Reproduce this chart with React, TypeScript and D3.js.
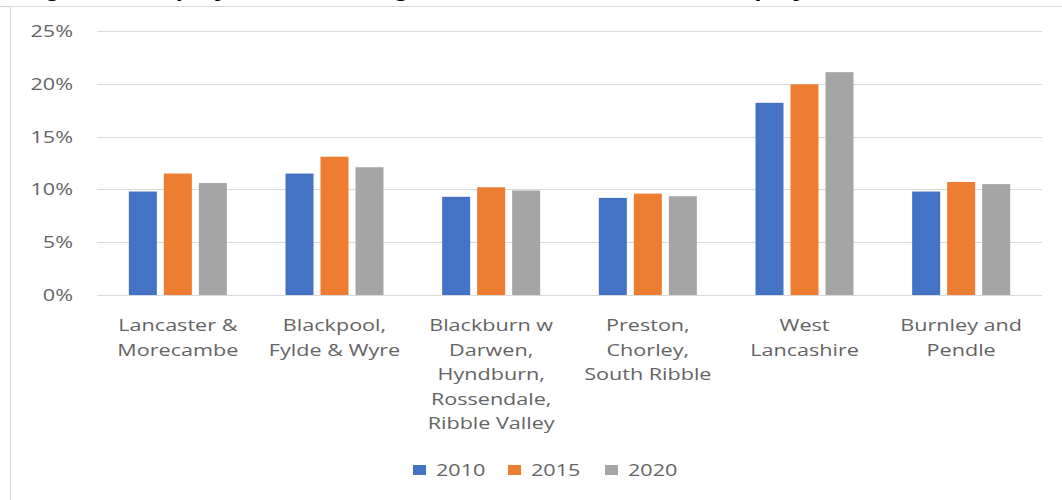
import React from "react";
import * as d3 from "d3";

const categories: string[][] = [
  ["Lancaster &", "Morecambe"],
  ["Blackpool,", "Fylde & Wyre"],
  ["Blackburn w", "Darwen,", "Hyndburn,", "Rossendale,", "Ribble Valley"],
  ["Preston,", "Chorley,", "South Ribble"],
  ["West", "Lancashire"],
  ["Burnley and", "Pendle"],
];
const seriesNames = ["2010", "2015", "2020"];
const values2010 = [0.098, 0.115, 0.093, 0.092, 0.182, 0.098];
const values2015 = [0.115, 0.131, 0.102, 0.096, 0.1995, 0.107];
const values2020 = [0.106, 0.121, 0.099, 0.0935, 0.211, 0.105];
const colors = ["#4472C4", "#ED7D31", "#A5A5A5"];
const yTicks = [0, 0.05, 0.1, 0.15, 0.2, 0.25];
const titleText = "Figure 1: Employment in the highest skilled roles as % of employment";

const W = 1062;
const H = 500;
const SX = 1.27;
const FONT = "'Open Sans', sans-serif";
const TEXT = "#646464";

export default function App() {
  const seriesValues = [values2010, values2015, values2020];
  const ids = categories.map((c) => c.join(" "));
  const x0 = d3.scaleBand<string>().domain(ids).range([99.5, 1039.5]).paddingInner(0).paddingOuter(0);
  const groupW = 98;
  const x1 = d3.scaleBand<string>().domain(seriesNames).range([0, groupW]).paddingInner(0.2).paddingOuter(0);
  const y = d3.scaleLinear().domain([0, 0.25]).range([295, 31]);
  const fmt = d3.format(".0%");

  const legendX = [413, 508, 605];

  return (
    <svg
      width={W}
      height={H}
      style={{ position: "absolute", left: 0, top: 0, background: "#fff" }}
      fontFamily={FONT}
    >
      <rect x={0} y={0} width={W} height={H} fill="#fff" />
      <text
        transform={`translate(22,-3) scale(${SX},1)`}
        fontSize={20}
        fontWeight="bold"
        fill="#000"
        fontFamily="'Liberation Sans', Arial, sans-serif"
      >
        {titleText}
      </text>
      <line x1={0} x2={W} y1={6.5} y2={6.5} stroke="#D0D0D0" />
      <rect x={10.5} y={6.5} width={1060} height={520} fill="none" stroke="#D9D9D9" />

      {yTicks.map((t) => (
        <g key={t}>
          <line x1={97} x2={1042} y1={Math.round(y(t)) + 0.5} y2={Math.round(y(t)) + 0.5} stroke="#D9D9D9" strokeWidth={1} />
          <text
            transform={`translate(73,${y(t) + 6}) scale(${SX},1)`}
            textAnchor="end"
            fontSize={17}
            fill={TEXT}
          >
            {fmt(t)}
          </text>
        </g>
      ))}

      {ids.map((id, i) => {
        const gx = (x0(id) as number) + x0.bandwidth() / 2 - groupW / 2;
        return (
          <g key={id}>
            {seriesNames.map((s, j) => {
              const v = seriesValues[j][i];
              return (
                <rect
                  key={s}
                  x={gx + (x1(s) as number)}
                  y={y(v)}
                  width={x1.bandwidth()}
                  height={y(0) - y(v)}
                  fill={colors[j]}
                />
              );
            })}
            {categories[i].map((line, k) => (
              <text
                key={k}
                transform={`translate(${(x0(id) as number) + x0.bandwidth() / 2},${331 + k * 24.5}) scale(${SX},1)`}
                textAnchor="middle"
                fontSize={17}
                fill={TEXT}
              >
                {line}
              </text>
            ))}
          </g>
        );
      })}

      {seriesNames.map((s, j) => (
        <g key={s}>
          <rect x={legendX[j]} y={465} width={13} height={10} fill={colors[j]} />
          <text
            transform={`translate(${legendX[j] + 23},476) scale(${SX},1)`}
            fontSize={17}
            fill={TEXT}
          >
            {s}
          </text>
        </g>
      ))}
    </svg>
  );
}
